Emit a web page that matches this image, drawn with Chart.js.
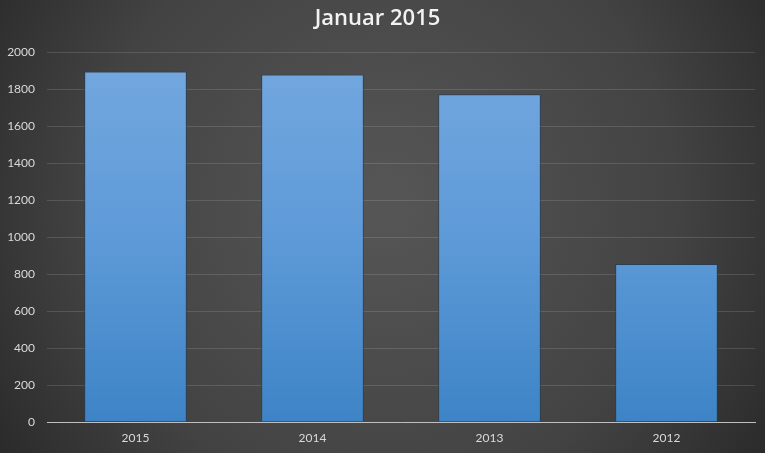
<!DOCTYPE html>
<html>
<head>
<meta charset="utf-8">
<script src="https://cdn.jsdelivr.net/npm/chart.js@4.4.0/dist/chart.umd.min.js"></script>
<style>
  html, body { margin: 0; padding: 0; background: #2b2b2b; }
  #wrap { width: 765px; height: 453px; }
</style>
</head>
<body>
<div id="wrap"><canvas id="myChart" width="765" height="453"></canvas></div>
<script>
const years = ["2015", "2014", "2013", "2012"];
const values = [1897, 1880, 1773, 855];
const yTicks = [0, 200, 400, 600, 800, 1000, 1200, 1400, 1600, 1800, 2000];

// dark radial background like the excel chart style
const bgPlugin = {
    id: 'bg',
    beforeDraw(chart) {
        let ctx = chart.ctx;
        let w = chart.width, h = chart.height;
        ctx.save();
        let g = ctx.createRadialGradient(w * 0.5, h * 0.45, 20, w * 0.5, h * 0.45, w * 0.62);
        g.addColorStop(0, '#555555');
        g.addColorStop(0.6, '#434343');
        g.addColorStop(1, '#282828');
        ctx.fillStyle = g;
        ctx.fillRect(0, 0, w, h);
        ctx.restore();
    }
};

function barFill(context) {
    let area = context.chart.chartArea;
    if (!area) return '#5b9bd5';
    let g = context.chart.ctx.createLinearGradient(0, area.top, 0, area.bottom);
    g.addColorStop(0, '#74a8df');
    g.addColorStop(0.5, '#5e9ad8');
    g.addColorStop(1, '#3d84c6');
    return g;
}

let ctx = document.getElementById("myChart").getContext('2d');
let myBar = new Chart(ctx, {
    type: 'bar',
    data: {
        labels: years,
        datasets: [{
            label: "Januar 2015",
            data: values,
            backgroundColor: barFill,
            borderColor: 'rgba(35,60,90,0.8)',
            borderWidth: 1,
            categoryPercentage: 1,
            barPercentage: 0.58
        }]
    },
    options: {
        responsive: false,
        animation: false,
        devicePixelRatio: 1,
        layout: { padding: { top: 0, right: 10, left: 0, bottom: 0 } },
        plugins: {
            legend: { display: false },
            tooltip: { enabled: false },
            title: {
                display: true,
                text: 'Januar 2015',
                color: '#f2f2f2',
                font: { family: '"Open Sans", sans-serif', size: 22, weight: '600' },
                padding: { top: 6, bottom: 20 }
            }
        },
        scales: {
            x: {
                grid: { display: false, drawTicks: false },
                border: { display: true, color: '#bfbfbf', width: 1 },
                ticks: {
                    color: '#d9d9d9',
                    font: { family: 'Lato, "Open Sans", sans-serif', size: 12 },
                    padding: 9
                },
                afterFit: scale => { scale.height = 31; }
            },
            y: {
                min: 0,
                max: 2000,
                afterBuildTicks: scale => { scale.ticks = yTicks.map(v => ({ value: v })); },
                grid: { color: 'rgba(255,255,255,0.13)', drawTicks: false },
                border: { display: false },
                ticks: {
                    color: '#d9d9d9',
                    font: { family: 'Lato, "Open Sans", sans-serif', size: 12 },
                    padding: 12,
                    callback: v => String(v)
                },
                afterFit: scale => { scale.width = 47; }
            }
        }
    },
    plugins: [bgPlugin]
});
</script>
</body>
</html>
